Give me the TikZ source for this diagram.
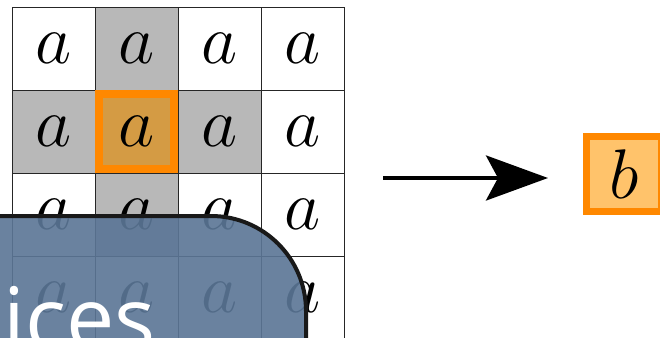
\RequirePackage{fix-cm}
\documentclass[tikz,border=0pt]{standalone}
\usepackage{fontspec}
\setsansfont{Open Sans}
\usetikzlibrary{arrows.meta, positioning}

\definecolor{cellgray}{HTML}{B8B8B8}
\definecolor{hlorange}{HTML}{FF8800}
\definecolor{hlfill}{HTML}{D49B44}
\definecolor{outfill}{HTML}{FFC36B}
\definecolor{slate}{HTML}{5B7696}

\begin{document}
\begin{tikzpicture}[
  x=0.02cm, y=-0.02cm,
  cell/.style={
    draw=black!85,
    line width=0.5pt,
    minimum size=1.66cm,
    inner sep=0pt,
    outer sep=0pt,
    font=\fontsize{40}{44}\selectfont
  },
  near/.style={cell, fill=cellgray},
  focus/.style={cell, draw=hlorange, fill=hlfill, line width=0.16cm,
    minimum size=1.5cm, outer sep=0.08cm},
  result/.style={cell, draw=hlorange, fill=outfill, line width=0.14cm,
    minimum size=1.52cm, outer sep=0.07cm},
  arrow/.style={-{Stealth[length=1.24cm, width=0.9cm, inset=0.24cm]},
    line width=0.08cm},
  panel/.style={draw=black!90, line width=0.08cm, fill=slate,
    fill opacity=0.91, rounded corners=1.9cm}
]

\useasboundingbox (0,0) rectangle (660,338);
\clip (0,0) rectangle (660,338);

% Input grid
\node[cell] (a11) at (53.5,48.5) {$a$};
\node[near] (a12) [right=0pt of a11] {$a$};
\node[cell] (a13) [right=0pt of a12] {$a$};
\node[cell] (a14) [right=0pt of a13] {$a$};

\node[near] (a21) [below=0pt of a11] {$a$};
\node[near] (a23) [below=0pt of a13] {$a$};
\node[cell] (a24) [below=0pt of a14] {$a$};

\node[cell] (a31) [below=0pt of a21] {$a$};
\node[near] (a32) [right=0pt of a31] {$a$};
\node[cell] (a33) [below=0pt of a23] {$a$};
\node[cell] (a34) [below=0pt of a24] {$a$};

\node[cell] (a41) [below=0pt of a31] {$a$};
\node[cell] (a42) [below=0pt of a32] {$a$};
\node[cell] (a43) [below=0pt of a33] {$a$};
\node[cell] (a44) [below=0pt of a34] {$a$};

% Centre cell
\node[focus] (a22) [below=0pt of a12] {$a$};

% Output cell
\node[result] (b) at (624,174) {$b$};

% Arrow
\coordinate (tail) at (383,178);
\coordinate (head) at (548,178);
\draw[arrow] (tail) -- (head);

% Slide panel in front
\draw[panel] (-200,216) rectangle (306,600);
\node[anchor=base west, inner sep=0pt, text=white,
  font=\sffamily\fontsize{49}{55}\selectfont] (caption) at (3,349) {ices};

\end{tikzpicture}
\end{document}
